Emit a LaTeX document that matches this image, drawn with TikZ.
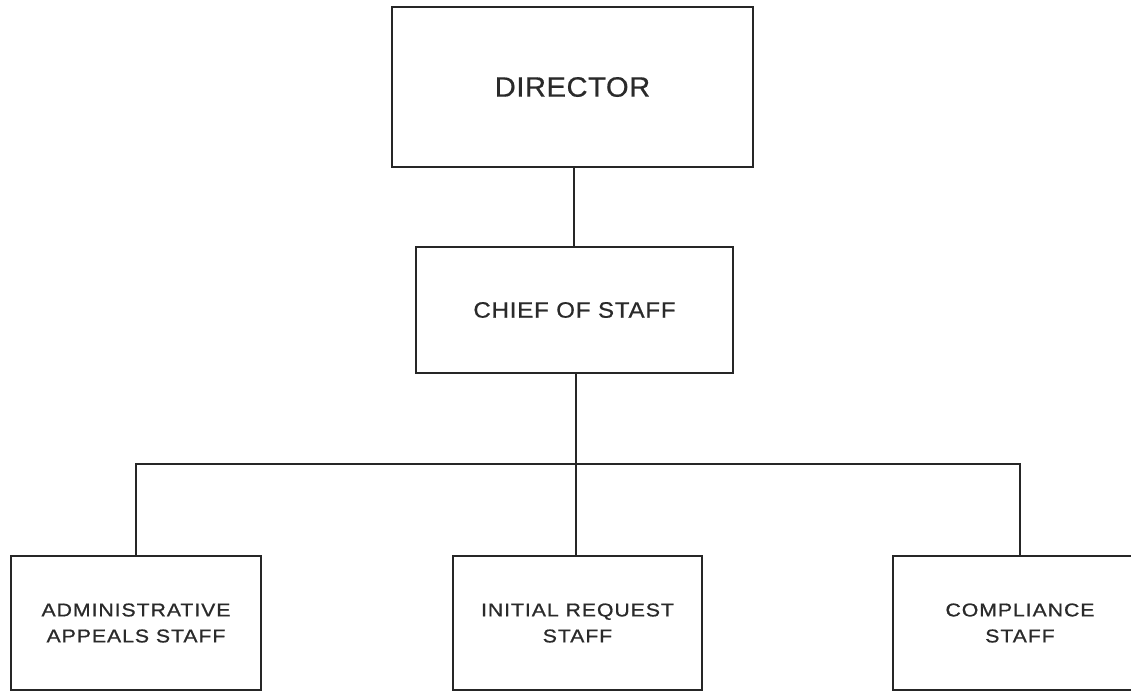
\documentclass[tikz,border=0pt]{standalone}
\usepackage{fontspec}
\setmainfont{Liberation Sans}
\newfontfamily\lsA[LetterSpace=2,FakeStretch=1.04,FakeBold=0.6]{Liberation Sans}
\newfontfamily\lsB[LetterSpace=3.5,FakeStretch=1.08,FakeBold=0.7]{Liberation Sans}
\newfontfamily\lsC[LetterSpace=5,FakeStretch=1.15,FakeBold=0.8]{Liberation Sans}
\definecolor{ink}{HTML}{262626}
\definecolor{txt}{HTML}{2A2A2A}
\begin{document}
\begin{tikzpicture}[x=1pt,y=-1pt,
  box/.style={draw=ink,line width=2.6pt,rectangle,inner sep=0pt,align=center,text=txt},
  conn/.style={draw=ink,line width=2.6pt},
  small/.style={font=\lsC\fontsize{18.5}{26}\selectfont}]
\useasboundingbox (0,0) rectangle (1131,691);
\clip (0,0) rectangle (1131,691);
\fill[white] (0,0) rectangle (1131,691);
\node[box,minimum width=361pt,minimum height=160pt,font=\lsA\fontsize{28}{32}\selectfont] (dir) at (572.5,87) {DIRECTOR};
\node[box,minimum width=317pt,minimum height=126pt,font=\lsB\fontsize{22.3}{26}\selectfont] (chief) at (574.5,310) {CHIEF OF STAFF};
\node[box,small,minimum width=250pt,minimum height=134pt] (adm) at (136,623) {ADMINISTRATIVE\\APPEALS STAFF};
\node[box,small,minimum width=249pt,minimum height=134pt] (ini) at (577.5,623) {INITIAL REQUEST\\STAFF};
\node[box,small,minimum width=254pt,minimum height=134pt] (com) at (1020,623) {COMPLIANCE\\STAFF};
\coordinate (bus) at (576,464);
\draw[conn] (dir.south -| 574,0) -- (574,247);
\draw[conn] (chief.south -| bus) -- (bus);
\draw[conn] (adm.north) |- (bus) -| (com.north);
\draw[conn] (ini.north -| bus) -- (bus);
\end{tikzpicture}
\end{document}
